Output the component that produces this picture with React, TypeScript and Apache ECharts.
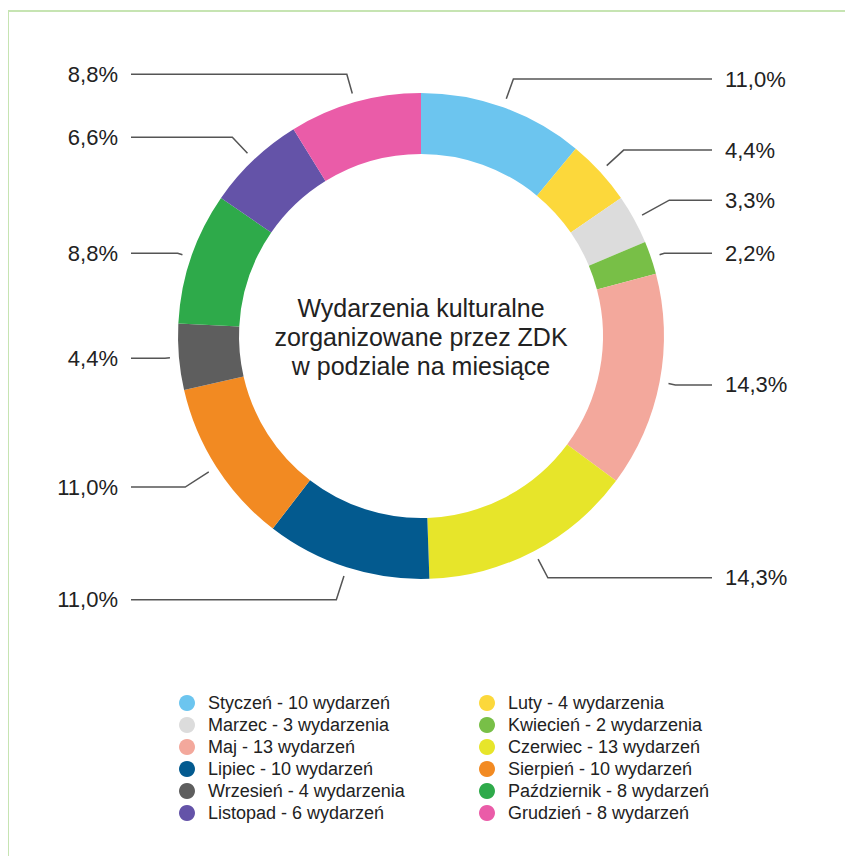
import React, { useEffect, useRef } from "react";
import * as echarts from "echarts";

const months = [
  "Styczeń", "Luty", "Marzec", "Kwiecień", "Maj", "Czerwiec",
  "Lipiec", "Sierpień", "Wrzesień", "Październik", "Listopad", "Grudzień",
];
const eventCounts = [10, 4, 3, 2, 13, 13, 10, 10, 4, 8, 6, 8];
const sliceColors = [
  "#6cc5ef", "#fcd83b", "#dcdcdc", "#78bf47", "#f3a89c", "#e7e52a",
  "#035a8f", "#f28a22", "#5e5e5e", "#2eaa4a", "#6453a8", "#ea5ca8",
];
const centerTitle = "Wydarzenia kulturalne\nzorganizowane przez ZDK\nw podziale na miesiące";

// leader line styling per slice (radial segment length)
const leaderLen = [30, 32, 40, 14, 16, 30, 34, 37, 14, 14, 31, 29];
const LINE_GAP = 9; // white gap between ring and leader line
const LEFT_END = 123;
const RIGHT_END = 704;
const TEXT_GAP = 13;

const FONT = "'Liberation Sans', Arial, Helvetica, sans-serif";

const plural = (n: number) => (n >= 2 && n <= 4 ? "wydarzenia" : "wydarzeń");

export default function App() {
  const ref = useRef<HTMLDivElement>(null);
  useEffect(() => {
    if (!ref.current) return;
    const chart = echarts.init(ref.current, null, { renderer: "svg" });
    const total = eventCounts.reduce((a, b) => a + b, 0);
    const countByName: Record<string, number> = {};
    months.forEach((m, i) => (countByName[m] = eventCounts[i]));
    const legendFormatter = (name: string) =>
      `${name} - ${countByName[name]} ${plural(countByName[name])}`;
    const legendCommon = {
      orient: "vertical",
      top: 679,
      icon: "circle",
      itemWidth: 16,
      itemHeight: 16,
      itemGap: 0,
      selectedMode: false,
      formatter: legendFormatter,
      textStyle: {
        fontFamily: FONT,
        fontSize: 18,
        lineHeight: 22,
        color: "#222",
        padding: [0, 0, 0, 8],
      },
    };
    chart.setOption({
      animation: false,
      graphic: [
        {
          type: "rect",
          shape: { x: 0, y: 3, width: 900, height: 900 },
          style: { fill: "none", stroke: "#c6e4b2", lineWidth: 2 },
          silent: true,
        },
        {
          type: "text",
          x: 413,
          y: 329,
          style: {
            text: centerTitle,
            font: `25px ${FONT}`,
            fill: "#222",
            lineHeight: 29,
            textAlign: "center",
            textVerticalAlign: "middle",
            align: "center",
            verticalAlign: "middle",
          },
        },
      ],
      legend: [
        { ...legendCommon, left: 166, data: months.filter((_, i) => i % 2 === 0) },
        { ...legendCommon, left: 466, data: months.filter((_, i) => i % 2 === 1) },
      ],
      series: [
        {
          type: "pie",
          center: [413, 328],
          radius: [182, 243],
          startAngle: 90,
          clockwise: true,
          avoidLabelOverlap: true,
          label: {
            show: true,
            position: "outside",
            fontFamily: FONT,
            fontSize: 22,
            color: "#222",
            formatter: (p: any) =>
              ((p.value / total) * 100).toFixed(1).replace(".", ",") + "%",
          },
          labelLine: {
            show: true,
            length2: 20,
            lineStyle: { color: "#555", width: 1.5 },
          },
          labelLayout: (p: any) => {
            const pts = p.labelLinePoints;
            if (!pts || pts.length < 3) return {};
            const [p0, p1, p2] = pts;
            const dx = p1[0] - p0[0];
            const dy = p1[1] - p0[1];
            const len = Math.sqrt(dx * dx + dy * dy) || 1;
            const start = [p0[0] + (dx / len) * LINE_GAP, p0[1] + (dy / len) * LINE_GAP];
            const isRight = p2[0] > p0[0];
            const endX = isRight ? RIGHT_END : LEFT_END;
            return {
              x: isRight ? endX + TEXT_GAP : endX - TEXT_GAP,
              y: p1[1],
              align: isRight ? "left" : "right",
              verticalAlign: "middle",
              labelLinePoints: [start, [p1[0], p1[1]], [endX, p1[1]]],
            };
          },
          emphasis: { disabled: true },
          data: months.map((m, i) => ({
            name: m,
            value: eventCounts[i],
            itemStyle: { color: sliceColors[i] },
            labelLine: { length: leaderLen[i] },
          })),
        },
      ],
    });
    return () => chart.dispose();
  }, []);
  return <div ref={ref} style={{ width: 837, height: 848 }} />;
}
